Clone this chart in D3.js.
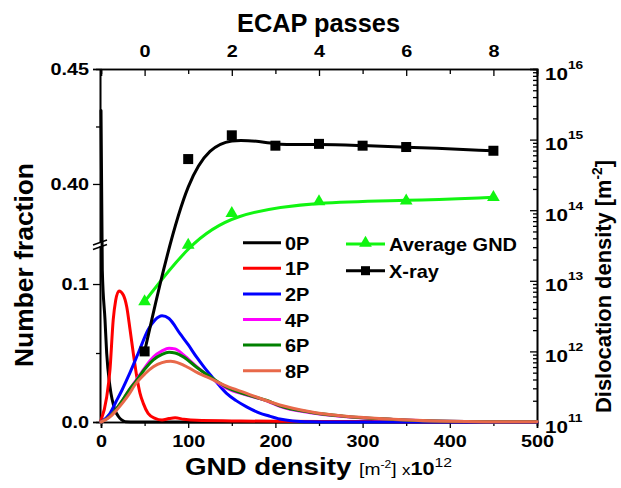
<!DOCTYPE html>
<html>
<head>
<meta charset="utf-8">
<script src="https://cdnjs.cloudflare.com/ajax/libs/d3/7.8.5/d3.min.js"></script>
<style>
  html, body { margin: 0; padding: 0; background: #fff; }
  svg { display: block; font-family: "Liberation Sans", Arial, sans-serif; }
</style>
</head>
<body>
<svg id="chart" width="621" height="488"></svg>
<script>
// GND density distributions (x in units of 1e12 m^-2, y = number fraction)
const gnd0P = [[0,0.432],[1.5,0.11],[4.6,0.074],[6.5,0.05],[10.3,0.0256],[16,0.0087],[20,0.004],[23.7,0.0015],[28,0.0002],[40,0],[100,0],[200,0],[300,0],[400,0],[500,0]];
const gnd1P = [[0,0.001],[6.5,0.018],[10.3,0.038],[14,0.074],[16.8,0.088],[20.6,0.095],[25.6,0.092],[29.5,0.0835],[33.3,0.067],[37,0.05],[41,0.033],[44.7,0.021],[48.5,0.0135],[54,0.0063],[62,0.0027],[70,0.0015],[78,0.0025],[85,0.003],[95,0.002],[110,0.0012],[150,0.0008],[200,0.0005],[300,0.0003],[400,0.0002],[500,0.0001]];
const gnd2P = [[0,0],[10,0.006],[17,0.0145],[24,0.023],[31.3,0.033],[42.8,0.05],[54.2,0.067],[62,0.074],[70,0.077],[78,0.075],[90.6,0.064],[100,0.056],[109.7,0.047],[118,0.04],[127,0.033],[135,0.027],[144,0.0208],[155,0.0155],[167,0.011],[182,0.0065],[192,0.0045],[205,0.0022],[220,0.0008],[240,0.0002],[270,0],[500,0]];
const gnd4P = [[0,0],[10,0.004],[17,0.009],[25,0.016],[32,0.023],[40,0.030],[51,0.040],[60,0.047],[70,0.0515],[78,0.0535],[85,0.053],[95,0.0485],[110,0.040],[127,0.0317],[144,0.0245],[167,0.0195],[192,0.0148],[205,0.0113],[240,0.0067],[278,0.004],[335,0.0018],[400,0.0005],[450,0.0002],[500,0.0001]];
const gnd6P = [[0,0],[10,0.004],[17,0.009],[25,0.016],[32,0.023],[40,0.0295],[51,0.039],[60,0.045],[70,0.049],[78,0.0505],[85,0.050],[95,0.047],[110,0.0395],[127,0.032],[144,0.0252],[167,0.0198],[192,0.0152],[205,0.0118],[240,0.0071],[278,0.0042],[335,0.0019],[400,0.0005],[450,0.0002],[500,0.0001]];
const gnd8P = [[0,0],[10,0.0035],[17,0.008],[25,0.014],[32,0.020],[39,0.027],[50.5,0.035],[60,0.040],[70,0.043],[80,0.044],[90,0.0425],[100,0.0395],[110,0.036],[127,0.031],[144,0.026],[167,0.0208],[182,0.0172],[205,0.0123],[240,0.0075],[278,0.0043],[335,0.002],[396,0.0005],[450,0.0002],[500,0.0001]];

const seriesNames = ["0P","1P","2P","4P","6P","8P"];
const seriesColors = ["#000000","#ff0000","#0000ff","#ff00ff","#008000","#e8694a"];
const seriesData = [gnd0P, gnd1P, gnd2P, gnd4P, gnd6P, gnd8P];

// Dislocation density vs. ECAP passes (m^-2)
const xrayPasses = [0,1,2,3,4,5,6,8];
const xrayDensity = [1.0e12,5.3e14,1.15e15,8.2e14,8.7e14,8.2e14,7.85e14,6.95e14];
const avgPasses = [0,1,2,4,6,8];
const avgDensity = [5.06e12,3.2e13,9.0e13,1.32e14,1.36e14,1.52e14];

// Axis ticks
const bottomMajor = [0,100,200,300,400,500];
const bottomMinor = [50,150,250,350,450];
const topMajor = [0,2,4,6,8];
const topMinor = [1,3,5,7];
const leftMajor = [0,0.1,0.40,0.45];
const leftMajorLabels = ["0.0","0.1","0.40","0.45"];
const leftMinor = [0.05,0.425];
const rightExponents = [11,12,13,14,15,16];

const L = 101, R = 537, T = 69, B = 422;
const svg = d3.select("#chart");

const x = d3.scaleLinear().domain([0,500]).range([L,R]);
const xTop = d3.scaleLinear().domain([-1,9]).range([L,R]);
// broken left axis: 0–0.128 lower panel, 0.3745–0.45 upper panel
const y = d3.scaleLinear().domain([0,0.128,0.3745,0.45]).range([B,245.4,242.6,T]);
const yR = d3.scaleLog().domain([1e11,1e16]).range([B,T]);

const tickFont = "bold 16.5px 'Liberation Sans', Arial, sans-serif";

// stretch text horizontally along its writing direction
function widen(sel, factor){
  sel.each(function(){
    const len = this.getComputedTextLength();
    d3.select(this).attr("textLength", len * factor).attr("lengthAdjust","spacingAndGlyphs");
  });
}
function fitTo(sel, target){
  sel.attr("textLength", target).attr("lengthAdjust","spacingAndGlyphs");
}

function styleAxis(g){
  g.selectAll("path.domain").attr("stroke","#000").attr("stroke-width",1.6);
  g.selectAll(".tick line").attr("stroke","#000").attr("stroke-width",1.3);
  g.selectAll(".tick text").style("font",tickFont).attr("fill","#000");
  widen(g.selectAll(".tick text").filter(function(){ return this.textContent !== ""; }), 1.2);
}

// bottom axis
svg.append("g").attr("transform",`translate(0,${B})`)
  .call(d3.axisBottom(x).tickValues(bottomMajor).tickSize(6).tickPadding(7).tickFormat(d3.format("d")))
  .call(styleAxis);
svg.append("g").attr("transform",`translate(0,${B})`)
  .call(d3.axisBottom(x).tickValues(bottomMinor).tickSize(4).tickFormat(""))
  .call(styleAxis);

// top axis (ECAP passes)
svg.append("g").attr("transform",`translate(0,${T})`)
  .call(d3.axisTop(xTop).tickValues(topMajor).tickSize(-7).tickPadding(12).tickFormat(d3.format("d")))
  .call(styleAxis);
svg.append("g").attr("transform",`translate(0,${T})`)
  .call(d3.axisTop(xTop).tickValues(topMinor).tickSize(-5).tickFormat(""))
  .call(styleAxis);

// left axis (number fraction, broken)
svg.append("g").attr("transform",`translate(${L-1},0)`)
  .call(d3.axisLeft(y).tickValues(leftMajor).tickSize(7).tickPadding(4)
    .tickFormat(d => leftMajorLabels[leftMajor.indexOf(d)]))
  .call(styleAxis);
svg.append("g").attr("transform",`translate(${L-1},0)`)
  .call(d3.axisLeft(y).tickValues(leftMinor).tickSize(4).tickFormat(""))
  .call(styleAxis);

// right axis (log dislocation density)
const rightMinor = [];
for (let e = 11; e < 16; e++) for (let m = 2; m <= 9; m++) rightMinor.push(m * Math.pow(10, e));
const rightMajor = rightExponents.map(e => Math.pow(10, e));
svg.append("g").attr("transform",`translate(${R},0)`)
  .call(d3.axisRight(yR).tickValues(rightMajor).tickSize(-7).tickFormat(""))
  .call(styleAxis);
svg.append("g").attr("transform",`translate(${R},0)`)
  .call(d3.axisRight(yR).tickValues(rightMinor).tickSize(-4).tickFormat(""))
  .call(styleAxis);
const rLabels = svg.append("g");
rightExponents.forEach(e => {
  const t = rLabels.append("text").attr("x", R + 8).attr("y", yR(Math.pow(10,e)) + 10.5)
    .style("font", tickFont).attr("fill","#000");
  t.append("tspan").text("10");
  t.append("tspan").attr("dy",-11).style("font-size","11px").text(e);
  widen(t, 1.25);
});

// axis break marks on left axis
const brk = svg.append("g");
brk.append("rect").attr("x",L-8).attr("y",243).attr("width",14).attr("height",3).attr("fill","#fff");
[242.5, 247].forEach(yy => {
  brk.append("line").attr("x1",L-8).attr("y1",yy+2.5).attr("x2",L+6).attr("y2",yy-2.5)
    .attr("stroke","#000").attr("stroke-width",1.4);
});

// distribution curves
const line = d3.line().x(d => x(d[0])).y(d => y(d[1])).curve(d3.curveMonotoneX);
const curves = svg.append("g");
seriesData.forEach((data, i) => {
  curves.append("path").datum(data).attr("d", line)
    .attr("fill","none").attr("stroke", seriesColors[i]).attr("stroke-width", 3)
    .attr("stroke-linejoin","round").attr("stroke-linecap","round");
});

// average GND density (triangles) and X-ray density (squares)
const avgPts = avgPasses.map((p,i) => [p, avgDensity[i]]);
const xrayPts = xrayPasses.map((p,i) => [p, xrayDensity[i]]);
const smooth = d3.line().x(d => xTop(d[0])).y(d => yR(d[1])).curve(d3.curveBasis);

const avgColor = "#11f511";
svg.append("path").datum(avgPts).attr("d", smooth)
  .attr("fill","none").attr("stroke", avgColor).attr("stroke-width", 3);
svg.append("g").selectAll("path").data(avgPts).join("path")
  .attr("transform", d => `translate(${xTop(d[0])},${yR(d[1])})`)
  .attr("d", d3.symbol(d3.symbolTriangle, 70))
  .attr("fill", avgColor);

svg.append("path").datum(xrayPts).attr("d", smooth)
  .attr("fill","none").attr("stroke","#000").attr("stroke-width", 3);
svg.append("g").selectAll("rect").data(xrayPts).join("rect")
  .attr("x", d => xTop(d[0]) - 5).attr("y", d => yR(d[1]) - 5)
  .attr("width", 10).attr("height", 10).attr("fill","#000");

// legend: distributions
const legFont = "bold 19px 'Liberation Sans', Arial, sans-serif";
const leg = svg.append("g");
seriesNames.forEach((n, i) => {
  const yy = 242.7 + i * 25.6;
  leg.append("line").attr("x1",243).attr("x2",281).attr("y1",yy).attr("y2",yy)
    .attr("stroke", seriesColors[i]).attr("stroke-width",3);
  leg.append("text").attr("x",285).attr("y",yy+7).style("font",legFont).text(n)
    .call(widen, 1.05);
});
// legend: density series
leg.append("line").attr("x1",346).attr("x2",385).attr("y1",244).attr("y2",244)
  .attr("stroke", avgColor).attr("stroke-width",3);
leg.append("path").attr("transform","translate(365.5,243)")
  .attr("d", d3.symbol(d3.symbolTriangle, 70)).attr("fill", avgColor);
leg.append("text").attr("x",389).attr("y",251).style("font",legFont).text("Average GND")
  .call(fitTo, 128);
leg.append("line").attr("x1",346).attr("x2",385).attr("y1",270.7).attr("y2",270.7)
  .attr("stroke","#000").attr("stroke-width",3);
leg.append("rect").attr("x",361).attr("y",266.2).attr("width",9).attr("height",9).attr("fill","#000");
leg.append("text").attr("x",389).attr("y",277.5).style("font",legFont).text("X-ray")
  .call(widen, 1.05);

// axis titles
svg.append("text").attr("x",318.5).attr("y",31.5).attr("text-anchor","middle")
  .style("font","bold 25.5px 'Liberation Sans', Arial, sans-serif").text("ECAP passes")
  .call(fitTo, 163);

svg.append("text").attr("transform","translate(33,265) rotate(-90)").attr("text-anchor","middle")
  .style("font","bold 25px 'Liberation Sans', Arial, sans-serif").text("Number fraction")
  .call(fitTo, 204);

const rt = svg.append("text").attr("transform","translate(611,286.5) rotate(-90)").attr("text-anchor","middle")
  .style("font","bold 22.5px 'Liberation Sans', Arial, sans-serif");
rt.append("tspan").text("Dislocation density [m");
rt.append("tspan").attr("dy",-9).style("font-size","14px").text("-2");
rt.append("tspan").attr("dy",9).text("]");
fitTo(rt, 253);

const bt = svg.append("text").attr("x",185).attr("y",475)
  .style("font","bold 23px 'Liberation Sans', Arial, sans-serif");
bt.append("tspan").text("GND density ");
bt.append("tspan").style("font-weight","normal").style("font-size","16px").text("[m");
bt.append("tspan").attr("dy",-7).style("font-weight","normal").style("font-size","10px").text("-2");
bt.append("tspan").attr("dy",7).style("font-weight","normal").style("font-size","16px").text("] ");
bt.append("tspan").style("font-weight","normal").style("font-size","14px").text("x");
bt.append("tspan").style("font-size","18px").text("10");
bt.append("tspan").attr("dy",-8).style("font-weight","normal").style("font-size","13px").text("12");
fitTo(bt, 267);
</script>
</body>
</html>
